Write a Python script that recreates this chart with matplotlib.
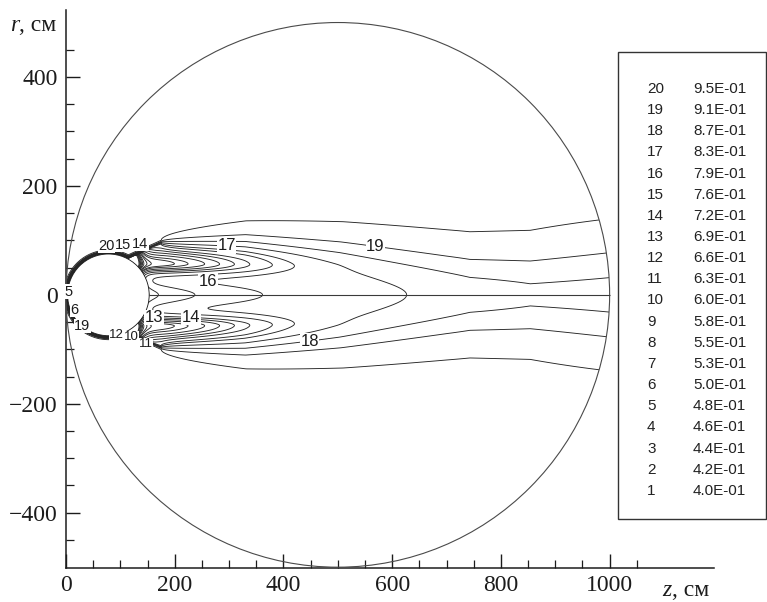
import numpy as np
import matplotlib
matplotlib.use("Agg")
import matplotlib.pyplot as plt
from matplotlib.patches import Circle, Rectangle
from matplotlib.path import Path
from matplotlib.ticker import FixedLocator

plt.rcParams['font.family'] = ['Liberation Serif', 'DejaVu Serif']

# ---------------- contour table ----------------
level_ids = list(range(1, 21))
level_values = [0.40, 0.42, 0.44, 0.46, 0.48, 0.50, 0.53, 0.55, 0.58, 0.60,
                0.63, 0.66, 0.69, 0.72, 0.76, 0.79, 0.83, 0.87, 0.91, 0.95]

# ---------------- geometry, cm ----------------
domain_center_z = 500.0
domain_radius = 500.0
body_center_z = 78.0
body_radius = 75.0

# ---------------- axes ----------------
x_major = [0, 200, 400, 600, 800, 1000]
x_minor = list(range(50, 1051, 50))
y_major = [-400, -200, 0, 200, 400]
y_minor = list(range(-450, 451, 50))
x_limits = (0.0, 1192.0)
y_limits = (-501.5, 523.0)

# ---------------- field model ----------------
# separation line: hugs the body up to arc_end_deg, then passes these nodes
layer_gap = 3.0
arc_end_deg = 62.0
shear_z = [175.0, 330.0, 504.0, 743.0, 854.0, 1000.0, 1250.0]
shear_r = [97.0, 100.0, 84.0, 52.0, 50.0, 66.0, 70.0]
# shear layer thickness: d0 + k1*sqrt(dz) + k2*dz downstream of the edge point
layer_d0, layer_k1, layer_k2 = 2.0, 1.9, 0.005
value_outer = 0.96
# wake level along the axis
wake_inf, wake_a1, wake_l1, wake_a2, wake_l2, wake_zref = 0.853, 0.053, 62.0, 0.093, 500.0, 155.0
front_drop, front_z, front_w = 0.5, 128.0, 14.0
# ridge between the axis and the recirculation ring
axis_amp, axis_decay, axis_w = 0.07, 120.0, 18.0
# recirculation ring behind the body (gaussian decay downstream, skewed profile)
vort_amp, vort_z, vort_len, vort_r, vort_w_in, vort_w_out = 0.22, 160.0, 190.0, 57.0, 16.0, 26.0

# computational mesh: fine near the body, coarse far downstream
z_nodes = np.concatenate([np.arange(-6.0, 260.0, 1.0), np.arange(260.0, 700.1, 2.0),
                          [743.0, 854.0, 1000.0, 1012.0]])
r_nodes = np.concatenate([np.arange(-512.0, -160.0, 2.0), np.arange(-160.0, 160.0, 1.0),
                          np.arange(160.0, 512.1, 2.0)])

# contour labels: (level id, z, r, font size)
label_ids = [20, 15, 14, 17, 19, 16, 5, 6, 19, 12, 10, 11, 13, 14, 18]
label_z = [75, 105, 137, 296, 570, 258, 4, 16, 30, 93, 120, 147, 164, 230, 449]
label_r = [90, 92, 93, 95, 95, 26, 6, -28, -57, -73, -77, -91, -22, -42, -87]
label_size = [10.5, 10.5, 10.5, 12, 12, 12, 10.5, 10.5, 10.5, 9.5, 9.5, 9.5, 12, 12, 12]


def polyline_distance(pz, ps, nz, ns):
    d = np.full(pz.shape, np.inf)
    for i in range(len(nz) - 1):
        az, a_s = nz[i], ns[i]
        vz, vs = nz[i + 1] - az, ns[i + 1] - a_s
        l2 = vz * vz + vs * vs
        t = np.clip(((pz - az) * vz + (ps - a_s) * vs) / l2, 0.0, 1.0)
        d = np.minimum(d, np.hypot(pz - (az + t * vz), ps - (a_s + t * vs)))
    return d


def layer_weight(Z, Rs, nz, ns, delta):
    """0 inside the separated region bounded by the curve (nz, ns), 1 outside."""
    dist = polyline_distance(Z, Rs, nz, ns)
    poly = np.column_stack([np.concatenate([nz, [nz[-1], nz[0]]]),
                            np.concatenate([ns, [-700.0, -700.0]])])
    inside = Path(poly).contains_points(np.column_stack([Z.ravel(), Rs.ravel()])).reshape(Z.shape)
    n = np.where(inside, -dist, dist)
    return 0.5 * (1.0 + np.tanh(n / delta))


def build_field():
    Z, R = np.meshgrid(z_nodes, r_nodes)
    S = np.abs(R)
    rl = body_radius + layer_gap
    th = np.linspace(np.pi, np.radians(arc_end_deg), 70)
    nz = np.concatenate([body_center_z + rl * np.cos(th), shear_z])
    ns = np.concatenate([rl * np.sin(th), shear_r])
    dz = np.maximum(Z - shear_z[0], 0.0)
    delta = layer_d0 + layer_k1 * np.sqrt(dz) + layer_k2 * dz
    t_up = layer_weight(Z, R, nz, ns, delta)
    t_lo = layer_weight(Z, -R, nz, ns, delta)
    T = 1.0 - (1.0 - t_up) * (1.0 - t_lo)
    W = (wake_inf - wake_a1 * np.exp(-(Z - wake_zref) / wake_l1)
         - wake_a2 * np.exp(-(Z - wake_zref) / wake_l2)
         - front_drop * 0.5 * (1.0 - np.tanh((Z - front_z) / front_w)))
    A = axis_amp * np.exp(-(Z - wake_zref) / axis_decay) * (1.0 - np.exp(-(R / axis_w) ** 2))
    ring_w = np.where(S < vort_r, vort_w_in, vort_w_out)
    V = (vort_amp * np.exp(-(np.maximum(Z - vort_z, 0.0) / vort_len) ** 2)
         * np.exp(-((S - vort_r) / ring_w) ** 2))
    f_in = np.clip(W + A - V, 0.3, None)
    return f_in + (value_outer - f_in) * T


field = build_field()

# ---------------- figure ----------------
W_PX, H_PX = 767, 602
fig = plt.figure(figsize=(W_PX / 100, H_PX / 100), dpi=100)
ax = fig.add_axes([66 / W_PX, 1 - 568 / H_PX, (714 - 66) / W_PX, (568 - 10) / H_PX])
ax.set_xlim(*x_limits)
ax.set_ylim(*y_limits)

ink = '#1c1c1c'
cs = ax.contour(z_nodes, r_nodes, field, levels=level_values, colors='#262626',
                linewidths=0.65, zorder=2)
domain_clip = Circle((domain_center_z, 0), domain_radius, transform=ax.transData)
cs.set_clip_path(domain_clip)

ax.add_patch(Circle((domain_center_z, 0), domain_radius, fill=False,
                    edgecolor='#4a4a4a', linewidth=0.8, zorder=3))
ax.hlines(0, body_center_z + body_radius, domain_center_z + domain_radius,
          colors='#3a3a3a', linewidth=0.8, zorder=3)
ax.add_patch(Circle((body_center_z, 0), body_radius, facecolor='white',
                    edgecolor='#111111', linewidth=0.6, zorder=4))

# contour labels: near the body they sit on the crowded band next to the wall,
# downstream each one is moved onto the nearest vertex of its own level line
near_body = body_center_z + body_radius
for lid, lz, lr, size in zip(label_ids, label_z, label_r, label_size):
    idx = level_ids.index(lid)
    segs = [s for s in cs.allsegs[idx] if len(s)]
    if not segs:
        continue
    px, py = lz, lr
    if lz > near_body:
        pts = np.vstack(segs)
        ok = np.hypot(pts[:, 0] - domain_center_z, pts[:, 1]) <= domain_radius
        if ok.any():
            pts = pts[ok]
        k = int(np.argmin(np.hypot(pts[:, 0] - lz, pts[:, 1] - lr)))
        px, py = pts[k]
    ax.text(px, py, str(lid), fontsize=size, color=ink, ha='center',
            va='center', family=['Liberation Sans', 'DejaVu Sans'], zorder=6,
            bbox=dict(boxstyle='square,pad=0.02', facecolor='white', edgecolor='none'))

# axes styling
for side in ('top', 'right'):
    ax.spines[side].set_visible(False)
for side in ('left', 'bottom'):
    ax.spines[side].set_linewidth(1.1)
    ax.spines[side].set_color(ink)
ax.xaxis.set_major_locator(FixedLocator(x_major))
ax.xaxis.set_minor_locator(FixedLocator(x_minor))
ax.yaxis.set_major_locator(FixedLocator(y_major))
ax.yaxis.set_minor_locator(FixedLocator(y_minor))
ax.tick_params(which='major', direction='in', length=10, width=1.0, color=ink,
               labelsize=17, labelcolor=ink)
ax.tick_params(which='minor', direction='in', length=6, width=0.9, color=ink)
ax.tick_params(axis='x', which='major', pad=5)
ax.tick_params(axis='y', which='major', pad=6)

fig.text(10 / W_PX, 1 - 31 / H_PX, 'r', fontsize=17, style='italic', color=ink,
         va='baseline', ha='left')
fig.text(19 / W_PX, 1 - 31 / H_PX, ', см', fontsize=17, color=ink, va='baseline', ha='left')
fig.text(662 / W_PX, 1 - 596 / H_PX, 'z', fontsize=17, style='italic', color=ink,
         va='baseline', ha='left')
fig.text(672 / W_PX, 1 - 596 / H_PX, ', см', fontsize=17, color=ink, va='baseline', ha='left')

# level table
box_l, box_t, box_r, box_b = 618, 52, 766, 519
fig.add_artist(Rectangle((box_l / W_PX, 1 - box_b / H_PX), (box_r - box_l) / W_PX,
                         (box_b - box_t) / H_PX, transform=fig.transFigure,
                         fill=False, edgecolor='#333333', linewidth=1.0))
row_top, row_step = 89.0, 21.15
for k, (lid, val) in enumerate(zip(level_ids[::-1], level_values[::-1])):
    y = 1 - (row_top + k * row_step) / H_PX
    fig.text(647 / W_PX, y, str(lid), fontsize=11, color='#222222', va='center',
             ha='left', family=['Liberation Sans', 'DejaVu Sans'])
    fig.text(693 / W_PX, y, f"{val:.1E}", fontsize=11, color='#222222', va='center',
             ha='left', family=['Liberation Sans', 'DejaVu Sans'])

fig.savefig('out.png', dpi=100)
